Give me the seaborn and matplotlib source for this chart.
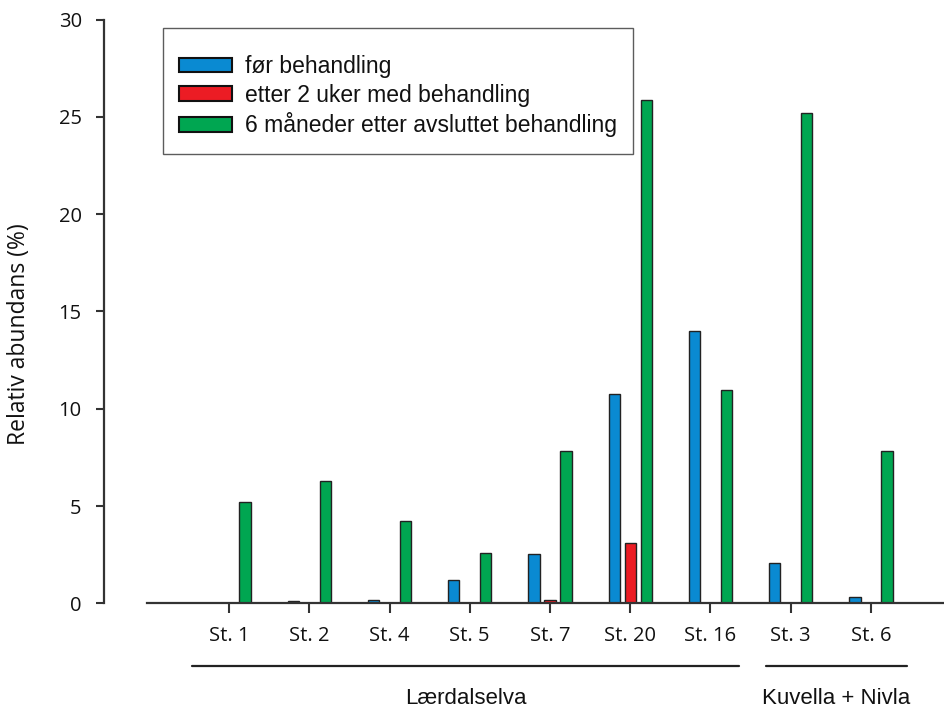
import matplotlib
matplotlib.use("Agg")
import matplotlib.pyplot as plt
import matplotlib.transforms as mtransforms
import seaborn as sns
import pandas as pd

stations = ["St. 1", "St. 2", "St. 4", "St. 5", "St. 7", "St. 20", "St. 16", "St. 3", "St. 6"]
series_names = ["før behandling", "etter 2 uker med behandling", "6 måneder etter avsluttet behandling"]
for_beh = [0.0, 0.12, 0.15, 1.19, 2.51, 10.75, 13.98, 2.05, 0.34]
etter_2uker = [0.0, 0.0, 0.0, 0.0, 0.15, 3.08, 0.0, 0.0, 0.0]
etter_6mnd = [5.2, 6.27, 4.24, 2.58, 7.85, 25.86, 10.94, 25.18, 7.81]
groups = ["Lærdalselva", "Kuvella + Nivla"]
yticks = [0, 5, 10, 15, 20, 25, 30]

colors = ["#0A8AD2", "#EC1C24", "#00A651"]

rows = []
for name, vals in zip(series_names, [for_beh, etter_2uker, etter_6mnd]):
    for s, v in zip(stations, vals):
        rows.append({"station": s, "value": v, "serie": name})
df = pd.DataFrame(rows)

sns.set_style("ticks")
plt.rcParams["font.family"] = ["Open Sans", "DejaVu Sans"]
plt.rcParams["text.color"] = "#111111"
plt.rcParams["xtick.labelcolor"] = "#111111"
plt.rcParams["ytick.labelcolor"] = "#111111"

FS = 14.5

fig = plt.figure(figsize=(9.44, 7.11), dpi=100)
ax = fig.add_axes([147/944, (711-603.3)/711, 797/944, 583.8/711])

sns.barplot(data=df, x="station", y="value", hue="serie", order=stations,
            hue_order=series_names, palette=colors, saturation=1, width=0.6, gap=0.3,
            edgecolor="#222222", linewidth=1.0, ax=ax, errorbar=None)

ax.set_xlim(-1.022, 8.91)
ax.set_ylim(0, 30)
ax.set_yticks(yticks)
ax.set_xticks(range(len(stations)))
ax.set_xticklabels(stations)
ax.tick_params(axis="y", length=6, width=1.5, pad=10, color="#333333", labelsize=FS)
ax.tick_params(axis="x", length=7, width=1.5, pad=9, color="#333333", labelsize=FS)
ax.set_xlabel("")
ax.set_ylabel("Relativ abundans (%)", fontsize=16.5, color="#111111")
ax.yaxis.set_label_coords((31 - 147) / 797, (603.3 - 334) / 583.8)

for side in ["top", "right"]:
    ax.spines[side].set_visible(False)
ax.spines["left"].set_position(("outward", 31))
ax.spines["left"].set_linewidth(1.6)
ax.spines["left"].set_color("#333333")
ax.spines["bottom"].set_linewidth(1.6)
ax.spines["bottom"].set_color("#333333")

# group lines and labels below the axis
trans = mtransforms.blended_transform_factory(ax.transData, ax.transAxes)
line_y = -(666 - 603.3) / 583.8
text_y = -(698 - 603.3) / 583.8
spans = [(-0.46, 6.36), (6.69, 8.45)]
for (x0, x1), g in zip(spans, groups):
    ax.plot([x0, x1], [line_y, line_y], transform=trans, color="#222222",
            lw=1.6, clip_on=False)
    ax.text((x0 + x1) / 2, text_y, g, transform=trans, ha="center", va="center",
            fontsize=16, family=["Liberation Sans"])

leg = ax.legend(loc="upper left", bbox_to_anchor=(0.02, 0.985), frameon=True,
                fancybox=False, edgecolor="#333333",
                title=" ", title_fontsize=4,
                handlelength=2.3, handleheight=0.62, handletextpad=0.6,
                labelspacing=0.25, borderpad=0.7, borderaxespad=0,
                prop={"family": ["Liberation Sans"], "size": 16.5})
leg.get_frame().set_linewidth(1.0)
for h in leg.legend_handles:
    h.set_edgecolor("#111111")
    h.set_linewidth(1.5)

fig.savefig("out.png", dpi=100)
